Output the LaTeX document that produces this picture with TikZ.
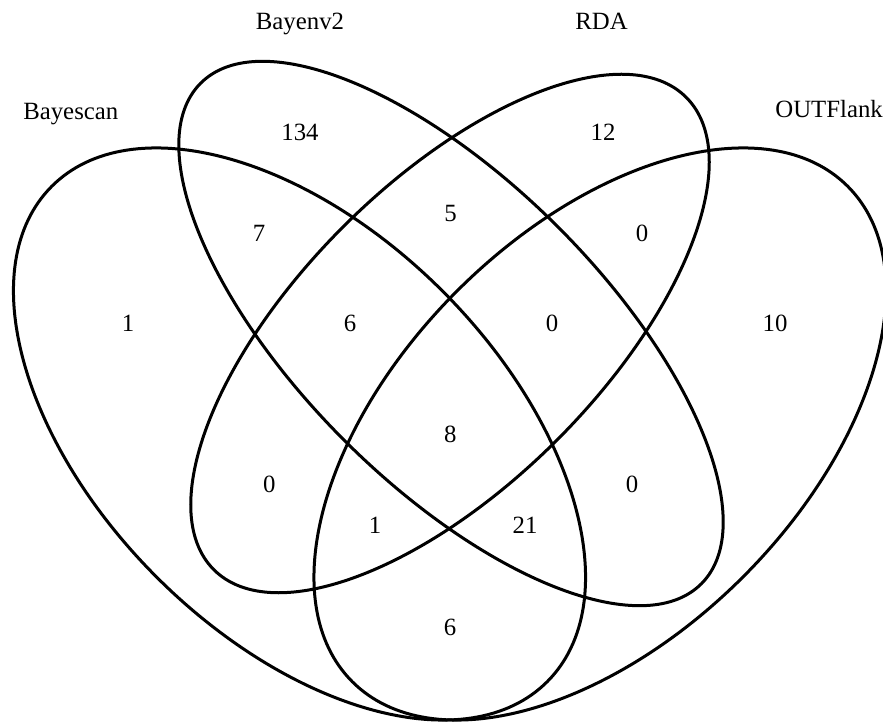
\documentclass[tikz,border=0pt]{standalone}
\usepackage{fontspec}
\setmainfont{Liberation Serif}
\begin{document}
\begin{tikzpicture}[x=1pt,y=1pt,
  vset/.style={draw=black, line width=3pt},
  lbl/.style={inner sep=0pt, anchor=base, font=\fontsize{24.8}{30}\selectfont},
  num/.style={inner sep=0pt, anchor=base, font=\fontsize{24.8}{30}\selectfont}]
\useasboundingbox (0,0) rectangle (883,723);
% ellipses
\draw[vset, rotate around={-45:(299.5,289)}] (299.5,289) ellipse [x radius=350.3pt, y radius=202.2pt];
\draw[vset, rotate around={-45:(451,389.5)}] (451,389.5) ellipse [x radius=354pt, y radius=151pt];
\draw[vset, rotate around={45:(450,389.5)}] (450,389.5) ellipse [x radius=334pt, y radius=151pt];
\draw[vset, rotate around={45:(600,289)}] (600,289) ellipse [x radius=350.3pt, y radius=202.2pt];
% category labels
\node[lbl] (lbayescan) at (70.8,603.7) {Bayescan};
\node[lbl] (lbayenv) at (300,693.5) {Bayenv2};
\node[lbl] (lrda) at (601.5,693.5) {RDA};
\node[lbl, anchor=base east] (loutflank) at (883,605) {OUTFlank};
% counts
\node[num] (n134) at (300,582) {134};
\node[num] (n7) at (259,481) {7};
\node[num] (n1a) at (128,391) {1};
\node[num] (n6a) at (350,391) {6};
\node[num] (n12) at (603,582) {12};
\node[num] (n5) at (450.5,501) {5};
\node[num] (n0a) at (642,481) {0};
\node[num] (n0b) at (552,391) {0};
\node[num] (n10) at (775,391) {10};
\node[num] (n8) at (450.4,280) {8};
\node[num] (n0c) at (269.4,230) {0};
\node[num] (n0d) at (632,230) {0};
\node[num] (n1b) at (375,189) {1};
\node[num] (n21) at (525,189) {21};
\node[num] (n6b) at (450,88) {6};
\end{tikzpicture}
\end{document}
